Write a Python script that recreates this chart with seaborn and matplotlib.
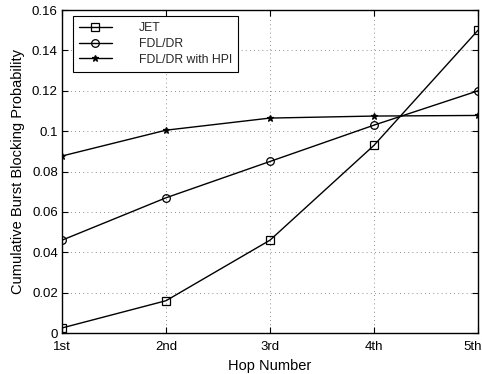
import matplotlib
matplotlib.use("Agg")
import matplotlib.pyplot as plt
import matplotlib.transforms as mtransforms
import seaborn as sns
import pandas as pd

hops = ["1st", "2nd", "3rd", "4th", "5th"]
jet = [0.0025, 0.016, 0.046, 0.093, 0.150]
fdl_dr = [0.046, 0.067, 0.085, 0.103, 0.120]
fdl_hpi = [0.0877, 0.1005, 0.1065, 0.1075, 0.1078]
series_names = ["JET", "FDL/DR", "FDL/DR with HPI"]
markers = ["s", "o", "*"]

sns.set_theme(style="white")
plt.rcParams["font.family"] = ["Liberation Sans", "DejaVu Sans"]

rows = []
for name, vals in zip(series_names, [jet, fdl_dr, fdl_hpi]):
    for i, (h, v) in enumerate(zip(hops, vals)):
        rows.append({"hop": i, "label": h, "value": v, "series": name})
df = pd.DataFrame(rows)

fig = plt.figure(figsize=(4.82, 3.74), dpi=100)
ax = fig.add_axes([0.1286, 0.1096, 0.8631, 0.8634])

for name, m in zip(series_names, markers):
    sub = df[df["series"] == name]
    sns.lineplot(data=sub, x="hop", y="value", ax=ax, color="black", lw=1.0,
                 marker=m, markersize=5.5 if m != "*" else 5,
                 markerfacecolor="none" if m != "*" else "black",
                 markeredgecolor="black", markeredgewidth=0.9, label=name)

ax.set_xlim(0, 4)
ax.set_ylim(0, 0.16)
ax.set_xticks(range(len(hops)))
ax.set_xticklabels(hops)
ax.set_yticks([0, 0.02, 0.04, 0.06, 0.08, 0.1, 0.12, 0.14, 0.16])
ax.set_yticklabels(["0", "0.02", "0.04", "0.06", "0.08", "0.1", "0.12", "0.14", "0.16"])
ax.grid(True, linestyle=(0, (1, 4)), color="black", lw=0.6, alpha=0.6)
ax.tick_params(direction="in", length=4, width=0.8, top=True, right=True,
               labelsize=9.5, colors="black", bottom=True, left=True, pad=3)
ax.tick_params(axis="x", pad=6)
for s in ax.spines.values():
    s.set_color("black")
    s.set_linewidth(1.0)
ax.set_xlabel("Hop Number", fontsize=10.5, color="black", labelpad=4)
ax.set_ylabel("Cumulative Burst Blocking Probability", fontsize=10.5, color="black", labelpad=5)

# nudge the last x tick label so it stays inside the figure
last = ax.get_xticklabels()[-1]
last.set_transform(last.get_transform() + mtransforms.ScaledTranslation(-5 / 100, 0, fig.dpi_scale_trans))

leg = ax.legend(loc="upper left", bbox_to_anchor=(0.026, 0.981), fontsize=8.8,
                frameon=True, fancybox=False, edgecolor="black", framealpha=1,
                borderaxespad=0, handlelength=2.7, handletextpad=2.2,
                labelspacing=0.3, borderpad=0.5)
leg.get_frame().set_linewidth(0.8)

fig.savefig("out.png", dpi=100)
